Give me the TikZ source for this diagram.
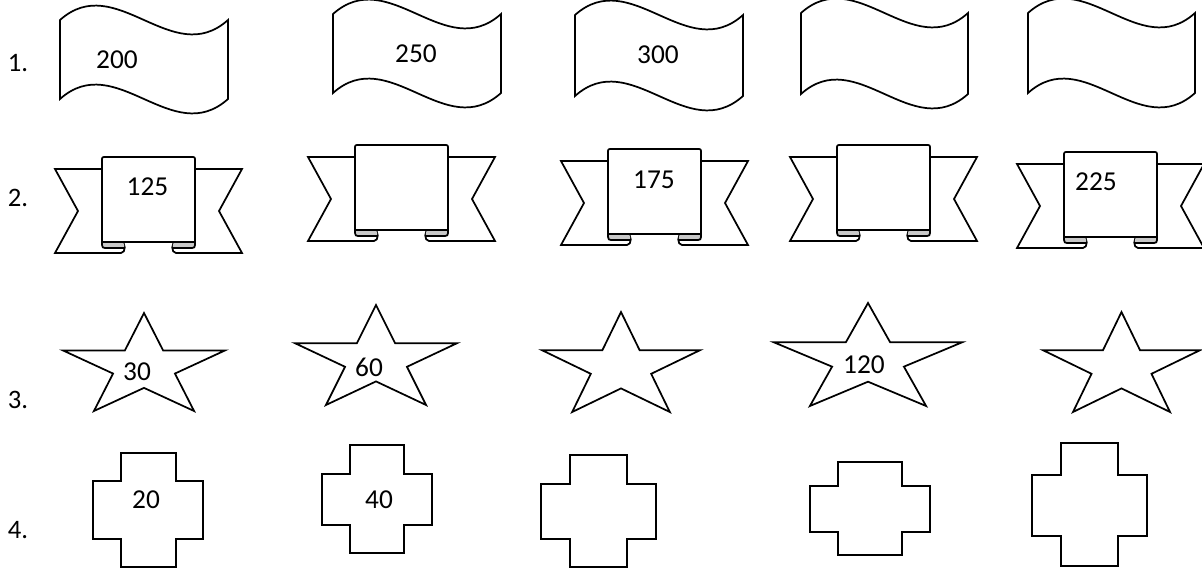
\documentclass[tikz,border=0pt]{standalone}
\usepackage{fontspec}
\setmainfont{Carlito}
\definecolor{curlgray}{RGB}{200,200,200}
\newcommand{\waveflag}[4]{%
  \pgfmathsetmacro\wfa{#1+(#3-#1)/3}%
  \pgfmathsetmacro\wfb{#1+2*(#3-#1)/3}%
  \draw[shp] (#1,#2) .. controls (\wfa,#2-50) and (\wfb,#2+50) .. (#3,#2) -- (#3,#4)
    .. controls (\wfb,#4+50) and (\wfa,#4-50) .. (#1,#4) -- cycle;}
\newcommand{\ribbonshape}[2]{%
  \begin{scope}[shift={(#1,#2)}]
    \draw[shp] (47,12) -- (0,12) -- (23,54) -- (0,96) -- (66,96) .. controls (71,96) and (71,85) .. (66,85) -- (47,85);
    \draw[shp] (140,12) -- (187,12) -- (164,54) -- (187,96) -- (121,96) .. controls (116,96) and (116,85) .. (121,85) -- (140,85);
    \fill[curlgray] (47,85) -- (66,85) .. controls (70,85) and (70,91) .. (68,91) -- (50,91) -- (47,88) -- cycle;
    \fill[curlgray] (140,85) -- (121,85) .. controls (117,85) and (117,91) .. (119,91) -- (137,91) -- (140,88) -- cycle;
    \draw (47,85) -- (47,88) .. controls (47,90) and (48,91) .. (50,91) -- (69,91);
    \draw (140,85) -- (140,88) .. controls (140,90) and (139,91) .. (137,91) -- (118,91);
    \draw[shp] (47,85) -- (47,4) .. controls (47,0) and (47,0) .. (51,0) -- (136,0)
      .. controls (140,0) and (140,0) .. (140,4) -- (140,85) -- cycle;
  \end{scope}}
\newcommand{\starshape}[4]{%
  \begin{scope}[shift={(#1,#2)},xscale=#3,yscale=#4]
    \draw[shp] (0.5,0) -- (0.618,0.382) -- (1,0.382) -- (0.691,0.618) -- (0.809,1) -- (0.5,0.764)
      -- (0.191,1) -- (0.309,0.618) -- (0,0.382) -- (0.382,0.382) -- cycle;
  \end{scope}}
\newcommand{\crossshape}[8]{%
  \draw[shp] (#2,#5) -- (#3,#5) -- (#3,#6) -- (#4,#6) -- (#4,#7) -- (#3,#7) -- (#3,#8)
    -- (#2,#8) -- (#2,#7) -- (#1,#7) -- (#1,#6) -- (#2,#6) -- cycle;}
\begin{document}
\begin{tikzpicture}[x=0.75pt,y=-0.75pt,line width=1.3pt,line join=miter,
  shp/.style={draw=black,fill=white},
  lbl/.style={anchor=base,font=\fontsize{20}{24}\selectfont,inner sep=0pt},
  num/.style={anchor=base,font=\fontsize{20.5}{24}\selectfont,inner sep=0pt}]
\useasboundingbox (0,0) rectangle (1202,569);
% row 1: waves
\waveflag{60}{20}{228}{99}
\waveflag{333}{14}{501}{93}
\waveflag{575}{15}{743}{96}
\waveflag{801}{13}{968}{94}
\waveflag{1028}{13}{1195}{93}
% row 2: ribbons
\ribbonshape{55}{157}
\ribbonshape{308}{145}
\ribbonshape{561}{149}
\ribbonshape{790}{145}
\ribbonshape{1017}{152}
% row 3: stars
\starshape{63}{313}{162}{98}
\starshape{295}{305}{162}{100}
\starshape{542}{312}{158}{100}
\starshape{774}{303}{188}{103}
\starshape{1043}{312}{157}{100}
% row 4: crosses
\crossshape{93}{121}{176}{203}{453}{481}{539}{567}
\crossshape{322}{350}{404}{432}{445}{474}{525}{553}
\crossshape{541}{570}{627}{656}{455}{484}{539}{567}
\crossshape{810}{838}{902}{930}{462}{486}{532}{555}
\crossshape{1032}{1061}{1118}{1147}{443}{475}{536}{566}
% labels
\node[lbl] (l1) at (18,71) {1.};
\node[lbl] (l2) at (18,206) {2.};
\node[lbl] (l3) at (18,408) {3.};
\node[lbl] (l4) at (18,538) {4.};
% numbers
\node[num] (n200) at (117,68) {200};
\node[num] (n250) at (416,62) {250};
\node[num] (n300) at (658,63) {300};
\node[num] (n125) at (147.5,195) {125};
\node[num] (n175) at (654,188) {175};
\node[num] (n225) at (1096,190) {225};
\node[num] (n30) at (137,380) {30};
\node[num] (n60) at (369,376) {60};
\node[num] (n120) at (864,373) {120};
\node[num] (n20) at (146,508) {20};
\node[num] (n40) at (379,508) {40};
\end{tikzpicture}
\end{document}
